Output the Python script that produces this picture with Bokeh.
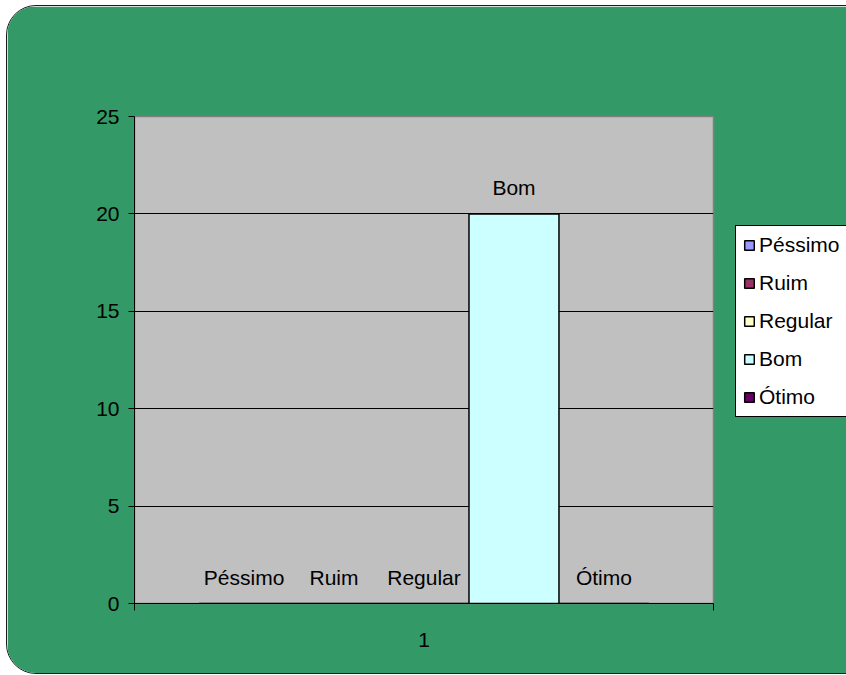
from bokeh.plotting import figure
from bokeh.models import (Range1d, FixedTicker, ColumnDataSource, Legend, LegendItem)
from bokeh.transform import dodge
from bokeh.core.properties import value
from bokeh.embed import file_html
from bokeh.resources import INLINE

categories = ["1"]
series = ["Péssimo", "Ruim", "Regular", "Bom", "Ótimo"]
values = [0, 0, 0, 20, 0]
colors = ["#9999FF", "#993366", "#FFFFCC", "#CCFFFF", "#660066"]
y_ticks = [0, 5, 10, 15, 20, 25]

FONT = "Liberation Sans"
GREEN = "#339966"

p = figure(width=838, height=667, output_backend="svg", toolbar_location=None,
           x_range=Range1d(0.5, 1.5), y_range=Range1d(0, 25),
           min_border_left=127, min_border_right=132, min_border_top=110, min_border_bottom=70)
p.frame_width = 579
p.frame_height = 487
p.background_fill_color = "#C0C0C0"
p.border_fill_color = GREEN
p.outline_line_color = "#808080"
p.outline_line_width = 1.5
p.styles = {"border-radius": "30px", "overflow": "hidden", "border": "1.5px solid #1a1a1a",
            "margin-left": "6px", "margin-top": "5px"}

bw = 0.1554
n = len(series)
cat_pos = [i + 1 for i in range(len(categories))]
items = []
for i, (name, v, c) in enumerate(zip(series, values, colors)):
    off = (i - (n - 1) / 2) * bw
    src = ColumnDataSource(dict(x=cat_pos, top=[v], label=[name]))
    r = p.vbar(x=dodge("x", off), top="top", width=bw, source=src,
               fill_color=c, line_color="black", line_width=1.5)
    p.text(x=dodge("x", off), y="top", text="label", source=src,
           text_font=value(FONT), text_font_size="21px", text_color="black",
           text_align="center", text_baseline="middle", y_offset=-26)
    items.append(LegendItem(label=name, renderers=[r]))

legend = Legend(items=items, location=(22, 186), orientation="vertical",
                background_fill_color="white", background_fill_alpha=1.0,
                border_line_color="black", border_line_width=1.5, border_line_alpha=1.0,
                label_text_font=FONT, label_text_font_size="21px", label_text_color="black",
                glyph_width=12, glyph_height=12, label_standoff=4,
                label_height=24, spacing=14, padding=7, margin=0)
p.add_layout(legend, "right")

# axes
p.yaxis.ticker = FixedTicker(ticks=y_ticks)
p.yaxis.axis_line_color = "black"
p.yaxis.major_tick_out = 6
p.yaxis.major_tick_in = 0
p.yaxis.minor_tick_line_color = None
p.yaxis.major_label_text_font = FONT
p.yaxis.major_label_text_font_size = "21px"
p.yaxis.major_label_text_color = "black"
p.yaxis.major_label_standoff = 9

p.xaxis.ticker = FixedTicker(ticks=cat_pos, minor_ticks=[0.5 + k for k in range(len(categories) + 1)])
p.xaxis.major_label_overrides = {pos: c for pos, c in zip(cat_pos, categories)}
p.xaxis.axis_line_color = "black"
p.xaxis.major_tick_out = 0
p.xaxis.major_tick_in = 0
p.xaxis.minor_tick_out = 7
p.xaxis.minor_tick_in = 0
p.xaxis.minor_tick_line_color = "black"
p.xaxis.major_label_text_font = FONT
p.xaxis.major_label_text_font_size = "21px"
p.xaxis.major_label_text_color = "black"
p.xaxis.major_label_standoff = 22

p.xgrid.grid_line_color = None
p.ygrid.ticker = FixedTicker(ticks=[5, 10, 15, 20])
p.ygrid.grid_line_color = "black"
p.ygrid.grid_line_width = 1

open("out.html", "w").write(file_html(p, INLINE))
